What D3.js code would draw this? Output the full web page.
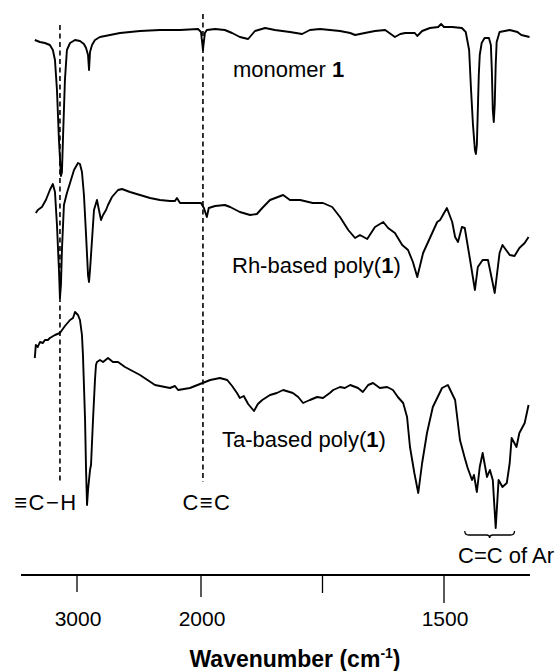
<!DOCTYPE html>
<html>
<head>
<meta charset="utf-8">
<script src="https://cdn.jsdelivr.net/npm/d3@7/dist/d3.min.js"></script>
<style>
  body { margin: 0; background: #fff; }
  svg { display: block; font-family: Arial, "Liberation Sans", Helvetica, sans-serif; }
</style>
</head>
<body>
<div id="ir_spectra"></div>
<script>
// wavenumber (cm-1), transmittance (arbitrary units, traces stacked)
const monomer = [
  [3339,107],[3298,106.6],[3258,106.4],[3218,106],[3194,105],[3177,103],[3161,97],[3145,87],
  [3129,79.8],[3121,80.6],[3113,87],[3097,99],[3081,105],[3056,106.4],[3016,107],[2976,106.8],
  [2944,106.2],[2927,105.4],[2911,104],[2903,101],[2895,104.6],[2879,106],[2855,107],[2815,107.6],
  [2734,108],[2653,108.4],[2492,108.8],[2331,109],[2169,109],[2024,109.2],[2000,108.6],[1996,105],
  [1992,108.4],[1988,109],[1971,109.2],[1951,109],[1936,108.4],[1920,107.6],[1903,107.2],[1889,108.8],
  [1868,109.4],[1848,109],[1817,108.6],[1792,108.2],[1776,109],[1755,109.2],[1714,108.8],[1693,108.4],
  [1683,108],[1663,108.4],[1642,108.8],[1621,109],[1601,107.6],[1590,108.2],[1580,108.4],[1560,108.4],
  [1555,107.8],[1545,108.8],[1529,109.4],[1512,109.6],[1506,110.2],[1500,109.6],[1483,109.6],[1463,109.4],
  [1455,108.6],[1448,105],[1444,97],[1440,90],[1436,85],[1434,84.2],[1432,86],[1430,93],[1428,100],
  [1426,104],[1422,106.4],[1416,107.4],[1407,107.4],[1403,106],[1401,101],[1399,93],[1397,90.6],
  [1395,94],[1393,102],[1391,106.6],[1385,108.6],[1364,109],[1348,108.6],[1340,108],[1323,107.6]
];

const rhPoly = [
  [3331,72.4],[3315,73],[3282,73.6],[3250,75],[3218,77],[3194,78.2],[3177,76.6],[3161,70],[3145,61],
  [3137,55.4],[3129,58],[3121,65],[3105,74],[3081,76.4],[3056,78.4],[3024,81],[2992,82.4],[2976,82.2],
  [2960,80.6],[2944,76],[2927,68],[2911,60],[2903,58.6],[2895,61],[2879,67],[2863,73],[2839,75],
  [2823,73],[2806,71],[2790,72],[2766,73],[2750,74],[2718,75.6],[2669,77],[2637,77.2],[2573,76.6],
  [2492,76],[2411,75.4],[2331,75],[2250,74.8],[2210,74.8],[2194,75.4],[2169,74.4],[2089,74.4],[2000,74.4],
  [1994,73.4],[1988,71.6],[1984,73.4],[1971,73.8],[1951,74],[1940,73.6],[1920,72.6],[1899,72],[1885,72.2],
  [1874,73.4],[1858,75],[1831,76],[1817,75],[1796,75],[1770,74.4],[1749,74.4],[1730,73.6],[1714,71.6],
  [1697,69],[1683,67.4],[1673,68],[1658,67.2],[1642,69.6],[1625,70.6],[1615,69.4],[1601,68.4],[1586,66],
  [1574,65],[1564,62.6],[1555,59.6],[1543,64.4],[1529,67.4],[1514,70.6],[1508,71],[1494,73.4],[1483,70.6],
  [1477,67.6],[1471,66.6],[1463,69.6],[1457,69.4],[1446,63],[1436,57],[1430,61.6],[1420,63],[1409,63],
  [1395,56.4],[1385,64.4],[1379,66],[1364,64],[1354,63.8],[1344,65.4],[1333,66.4],[1325,67.6]
];

const taPoly = [
  [3339,43.4],[3331,46],[3315,45.6],[3298,46.6],[3274,46.4],[3258,47],[3234,47],[3218,47.4],[3177,48],
  [3137,48.4],[3097,49.8],[3056,51],[3032,51.4],[3016,52.6],[2992,52],[2976,51],[2960,48],[2952,44],
  [2944,38],[2935,31],[2927,21],[2919,14],[2911,17],[2903,19],[2895,21],[2887,22],[2871,31],[2855,39],
  [2847,42],[2839,42.6],[2815,43],[2790,42.6],[2750,43.4],[2710,42.6],[2669,42.6],[2613,41.6],[2492,40],
  [2371,38],[2250,37.4],[2210,37.8],[2185,37],[2089,37.4],[2008,38.2],[1981,39],[1961,39.4],[1946,39],
  [1936,37.8],[1926,36.4],[1920,35.4],[1912,35.8],[1903,34.2],[1891,32.8],[1883,34.2],[1874,35],[1858,36],
  [1844,36.4],[1831,37],[1811,36.4],[1800,35.6],[1790,34.4],[1776,35],[1761,35.6],[1749,35.4],[1735,36.4],
  [1728,37],[1714,37.6],[1704,37.4],[1693,38],[1677,37.4],[1667,36.6],[1656,38],[1646,38.4],[1632,37.4],
  [1617,37.6],[1605,37],[1595,35.6],[1584,34.4],[1576,31.6],[1570,25.6],[1561,20.4],[1553,16.4],[1545,22.4],
  [1535,28.4],[1523,33.6],[1504,37.4],[1492,38],[1477,35],[1467,27],[1457,23.4],[1451,21.4],[1442,19],
  [1438,20],[1432,16.6],[1426,21.6],[1420,24.4],[1411,19.6],[1405,21],[1399,19],[1393,9.4],[1387,19],
  [1379,17.6],[1370,18.4],[1364,22.4],[1360,27.4],[1350,25.6],[1344,28.4],[1333,30.4],[1325,34]
];

const tickValues = [3000, 2000, 1750, 1500];
const tickLabels = ["3000", "2000", "", "1500"];

// assignment lines (wavenumber) and the aromatic C=C range
const markerLines = [3137, 1996];
const markerLabels = ["\u2261C\u2212H", "C\u2261C"];
const aromaticRange = [1457, 1354];
const aromaticLabel = "C=C of Ar";

const seriesLabels = ["monomer ", "Rh-based poly(", "Ta-based poly("];

let config = {
  div: '#ir_spectra',
  width: 557,
  height: 671,
  axisY: 575
};

const svg = d3.select(config.div)
  .append("svg")
  .attr("width", config.width)
  .attr("height", config.height);

// IR axis with scale changes at 3000 and 2000 cm-1
const xScale = d3.scaleLinear()
  .domain([3450, 3000, 2000, 1500, 1322])
  .range([21, 77, 201, 444, 530]);

const yScale = d3.scaleLinear()
  .domain([0, 110])
  .range([config.axisY, 25]);

const line = d3.line()
  .x(d => xScale(d[0]))
  .y(d => yScale(d[1]));

// dashed assignment lines
svg.selectAll(".marker")
  .data(markerLines)
  .enter()
  .append("line")
  .attr("class", "marker")
  .attr("x1", d => xScale(d))
  .attr("x2", d => xScale(d))
  .attr("y1", (d, i) => i == 0 ? 25 : 14)
  .attr("y2", 482)
  .attr("stroke", "#111")
  .attr("stroke-width", 1.7)
  .attr("stroke-dasharray", "5,3.5");

// spectra
[monomer, rhPoly, taPoly].forEach(s => {
  svg.append("path")
    .datum(s)
    .attr("d", line)
    .attr("fill", "none")
    .attr("stroke", "#000")
    .attr("stroke-width", 1.9)
    .attr("stroke-linejoin", "round");
});

// series labels, with the compound number in bold
let labelPos = [[233, 77], [232, 273], [222, 447]];
seriesLabels.forEach((t, i) => {
  let txt = svg.append("text")
    .attr("x", labelPos[i][0])
    .attr("y", labelPos[i][1])
    .attr("font-size", 22)
    .attr("fill", "#000");
  txt.append("tspan").text(t);
  txt.append("tspan").attr("font-weight", "bold").text("1");
  if (i > 0) txt.append("tspan").text(")");
});

// marker labels
svg.selectAll(".markerLabel")
  .data(markerLabels)
  .enter()
  .append("text")
  .attr("x", (d, i) => i == 0 ? 46 : xScale(markerLines[1]) + 4)
  .attr("y", 510)
  .attr("text-anchor", "middle")
  .attr("font-size", 22)
  .attr("letter-spacing", 1.5)
  .text(d => d);

// brace under the aromatic bands
let bx0 = xScale(aromaticRange[0]), bx1 = xScale(aromaticRange[1]);
let bm = (bx0 + bx1) / 2, by = 535;
svg.append("path")
  .attr("d", `M${bx0},${by - 4} Q${bx0},${by} ${bx0 + 4},${by} L${bm - 3},${by} Q${bm},${by} ${bm},${by + 3}
              Q${bm},${by} ${bm + 3},${by} L${bx1 - 4},${by} Q${bx1},${by} ${bx1},${by - 4}`)
  .attr("fill", "none")
  .attr("stroke", "#000")
  .attr("stroke-width", 1.3);

svg.append("text")
  .attr("x", 458)
  .attr("y", 563)
  .attr("font-size", 22)
  .text(aromaticLabel);

// x axis
svg.append("line")
  .attr("x1", xScale.range()[0])
  .attr("x2", xScale.range()[4])
  .attr("y1", config.axisY)
  .attr("y2", config.axisY)
  .attr("stroke", "#000")
  .attr("stroke-width", 2.2);

let tickLen = {3000: 17, 2000: 22, 1750: 18, 1500: 28};
svg.selectAll(".tick")
  .data(tickValues)
  .enter()
  .append("line")
  .attr("class", "tick")
  .attr("x1", d => xScale(d))
  .attr("x2", d => xScale(d))
  .attr("y1", config.axisY)
  .attr("y2", d => config.axisY + tickLen[d])
  .attr("stroke", "#000")
  .attr("stroke-width", 1.3);

svg.selectAll(".tickLabel")
  .data(tickValues)
  .enter()
  .append("text")
  .attr("x", d => xScale(d) + 1)
  .attr("y", 626)
  .attr("text-anchor", "middle")
  .attr("font-size", 21)
  .text((d, i) => tickLabels[i]);

// axis title
let title = svg.append("text")
  .attr("x", 295)
  .attr("y", 667)
  .attr("text-anchor", "middle")
  .attr("font-size", 23)
  .attr("font-weight", "bold");
title.append("tspan").text("Wavenumber (cm");
title.append("tspan").attr("font-size", 14).attr("dy", -9).text("-1");
title.append("tspan").attr("dy", 9).text(")");
</script>
</body>
</html>
